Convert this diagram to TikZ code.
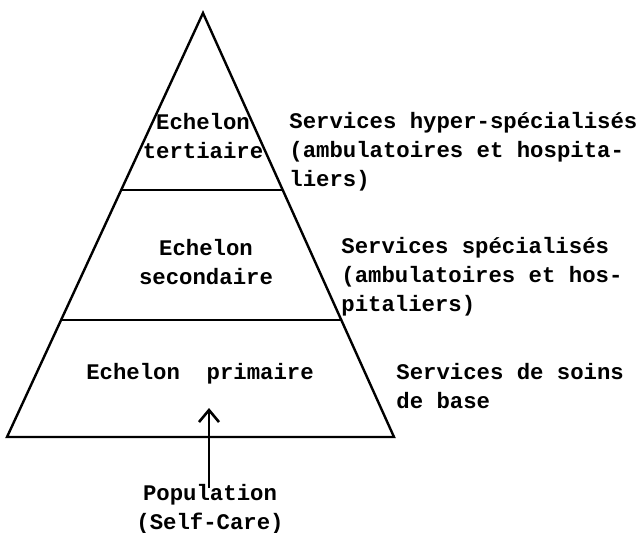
\documentclass[tikz,border=0pt]{standalone}
\usepackage{fontspec}
\setmonofont{Liberation Mono}
\usepackage{tikz}
\usetikzlibrary{calc, positioning, arrows.meta}
\def\pyrline{1.2pt}
\tikzstyle{every node}=[font=\ttfamily\bfseries\fontsize{11.15}{14.5}\selectfont, inner sep=0pt]
\tikzstyle{echelon text}=[align=center]
\tikzstyle{service text}=[align=left, anchor=west]
\tikzstyle{pyramid}=[line width=\pyrline, line join=miter]

\begin{document}
\begin{tikzpicture}[x=0.5pt, y=-0.5pt]
			\useasboundingbox (0,0) rectangle (640,532);

			% Corners of the pyramid
			\coordinate (apex) at (203,13);
			\coordinate (base-l) at (7,437);
			\coordinate (base-r) at (394,437);

			% Draw the outline and the two dividing lines
			\draw[pyramid] (apex) -- (base-r) -- (base-l) -- cycle;
			\draw[pyramid] ($(apex)!0.4175!(base-l)$) -- ($(apex)!0.4175!(base-r)$);
			\draw[pyramid] ($(apex)!0.724!(base-l)$) -- ($(apex)!0.724!(base-r)$);

			% Name the levels inside the pyramid
			\node[echelon text] (tert) at (203,136) {Echelon\\tertiaire};
			\node[echelon text] (sec) at (206,262) {Echelon\\secondaire};
			\node[echelon text] (prim) at (200,374) {Echelon~~primaire};

			% Services beside each level
			\node[service text] (s-tert) at (289,152) {Services hyper-spécialisés\\(ambulatoires et hospita-\\liers)};
			\node[service text] (s-sec) at (341,277) {Services spécialisés\\(ambulatoires et hos-\\pitaliers)};
			\node[service text] (s-prim) at (396,386) {Services de soins\\de base};

			% Population below, pointing up into the base
			\node[echelon text] (pop) at (210,509) {Population\\(Self-Care)};
			\coordinate (tip) at (209,408);
			\draw[line width=1pt, -{Straight Barb[length=6pt, width=10pt, line width=1.3pt]}] ([yshift=-2pt]pop.north -| tip) -- (tip);
		\end{tikzpicture}
\end{document}
